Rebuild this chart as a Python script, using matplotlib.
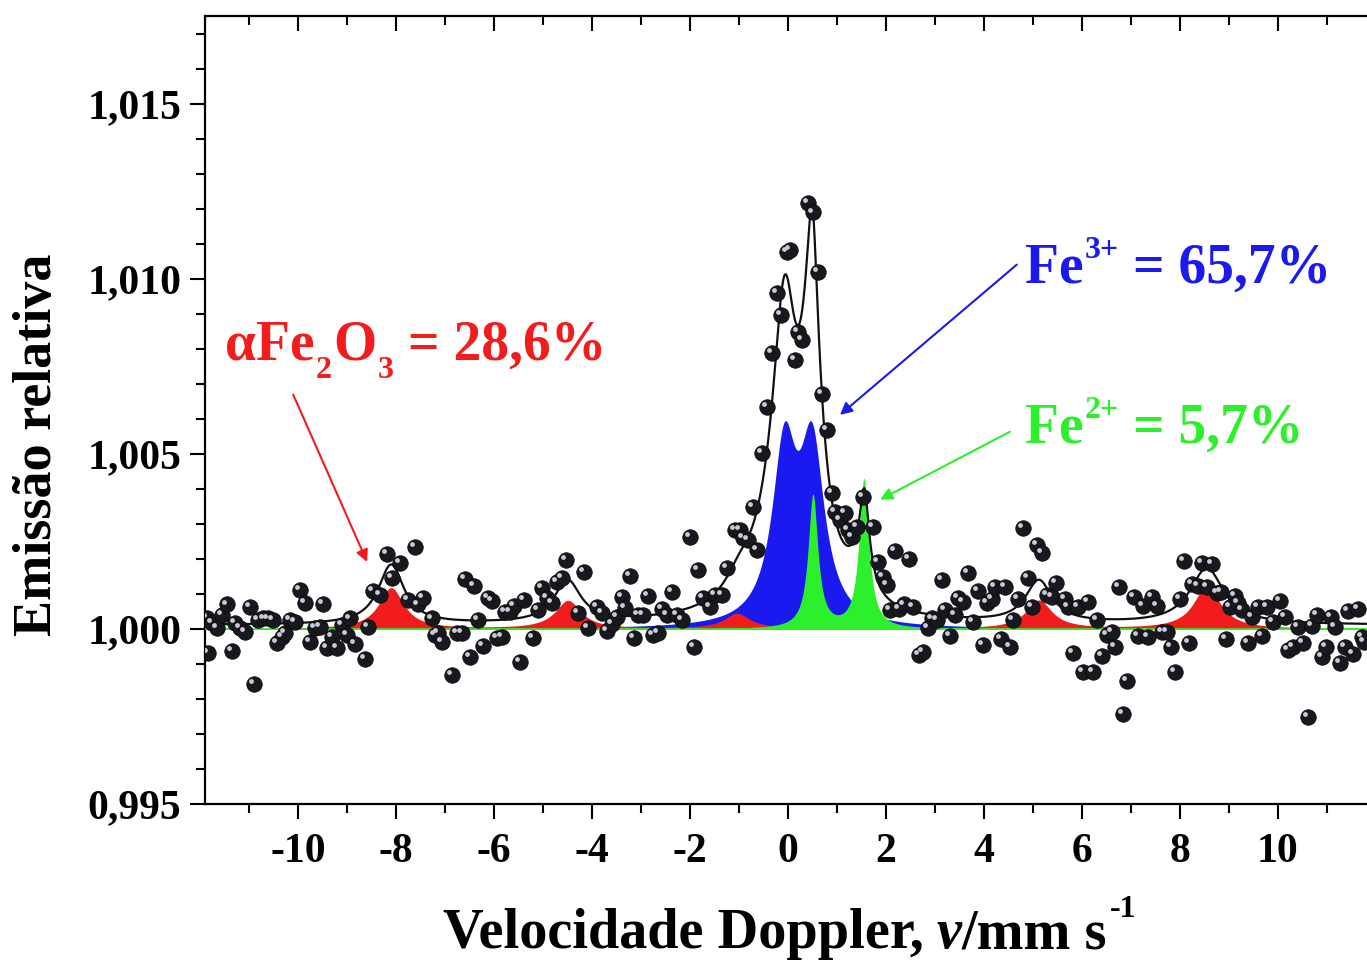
import matplotlib
matplotlib.use('Agg')
import matplotlib.pyplot as plt
import numpy as np
from matplotlib.ticker import MultipleLocator, FuncFormatter
from matplotlib.transforms import offset_copy

plt.rcParams['font.family'] = 'Liberation Serif'
plt.rcParams['font.weight'] = 'bold'
plt.rcParams['axes.labelweight'] = 'bold'
plt.rcParams['axes.unicode_minus'] = False

# measured spectrum (velocity mm/s, relative emission)
vel = [-11.86, -11.84, -11.76, -11.65, -11.55, -11.45, -11.35, -11.29, -11.18, -11.08,
       -10.98, -10.90, -10.82, -10.71, -10.61, -10.51, -10.43, -10.33, -10.27, -10.16,
       -10.06, -9.96, -9.86, -9.76, -9.65, -9.55, -9.49, -9.41, -9.31, -9.20,
       -9.10, -9.00, -8.94, -8.84, -8.63, -8.57, -8.47, -8.33, -8.18, -8.08,
       -7.92, -7.76, -7.61, -7.55, -7.45, -7.27, -7.20, -7.14, -7.06, -6.86,
       -6.76, -6.65, -6.59, -6.49, -6.41, -6.33, -6.22, -6.12, -6.04, -5.94,
       -5.84, -5.78, -5.67, -5.59, -5.47, -5.39, -5.20, -5.10, -5.02, -4.92,
       -4.82, -4.71, -4.61, -4.53, -4.29, -4.16, -4.08, -3.90, -3.80, -3.69,
       -3.59, -3.49, -3.39, -3.33, -3.22, -3.14, -3.06, -2.96, -2.86, -2.76,
       -2.65, -2.58, -2.47, -2.37, -2.27, -2.16, -2.00, -1.92, -1.84, -1.73,
       -1.59, -1.49, -1.35, -1.24, -1.08, -0.98, -0.92, -0.82, -0.71, -0.63,
       -0.53, -0.43, -0.33, -0.22, -0.14, -0.02, 0.04, 0.14, 0.20, 0.29,
       0.41, 0.51, 0.61, 0.69, 0.80, 0.90, 0.96, 1.06, 1.16, 1.22,
       1.31, 1.41, 1.53, 1.73, 1.84, 1.94, 2.02, 2.08, 2.18, 2.27,
       2.37, 2.47, 2.55, 2.67, 2.76, 2.86, 2.94, 3.04, 3.14, 3.20,
       3.31, 3.41, 3.47, 3.57, 3.67, 3.78, 3.88, 3.98, 4.06, 4.16,
       4.22, 4.35, 4.43, 4.53, 4.59, 4.69, 4.80, 4.90, 4.98, 5.08,
       5.18, 5.29, 5.39, 5.47, 5.65, 5.71, 5.82, 5.92, 6.02, 6.12,
       6.22, 6.31, 6.41, 6.51, 6.61, 6.67, 6.76, 6.84, 6.92, 7.06,
       7.14, 7.24, 7.35, 7.43, 7.53, 7.63, 7.73, 7.82, 7.90, 8.00,
       8.08, 8.18, 8.24, 8.37, 8.45, 8.55, 8.65, 8.76, 8.84, 8.94,
       9.02, 9.12, 9.18, 9.27, 9.39, 9.47, 9.59, 9.67, 9.78, 9.90,
       10.04, 10.14, 10.20, 10.31, 10.41, 10.51, 10.61, 10.69, 10.80, 10.90,
       10.98, 11.08, 11.16, 11.27, 11.37, 11.43, 11.53, 11.63, 11.71, 11.76]
emis = [1.00031, 0.99931, 1.00017, 1.00003, 1.00040, 1.00070, 0.99937, 1.00017, 1.00003, 0.99991,
        1.00063, 0.99843, 1.00026, 1.00030, 1.00030, 1.00026, 0.99960, 0.99977, 0.99989, 1.00026,
        1.00020, 1.00111, 1.00074, 0.99963, 1.00003, 1.00006, 1.00071, 0.99946, 0.99977, 0.99946,
        1.00011, 0.99983, 1.00030, 0.99957, 0.99914, 1.00006, 1.00109, 1.00097, 1.00214, 1.00146,
        1.00189, 1.00083, 1.00234, 1.00070, 1.00089, 1.00030, 0.99983, 0.99989, 0.99963, 0.99869,
        0.99989, 0.99989, 1.00143, 0.99920, 1.00123, 1.00026, 0.99951, 1.00089, 1.00080, 0.99974,
        0.99977, 1.00049, 1.00049, 1.00066, 0.99906, 1.00083, 0.99974, 1.00054, 1.00117, 1.00089,
        1.00074, 1.00134, 1.00146, 1.00197, 1.00046, 1.00163, 1.00003, 1.00063, 1.00046, 0.99994,
        1.00014, 1.00034, 1.00091, 1.00060, 1.00151, 0.99974, 1.00040, 1.00040, 1.00094, 0.99983,
        0.99989, 1.00057, 1.00040, 1.00106, 1.00040, 1.00026, 1.00263, 0.99949, 1.00169, 1.00089,
        1.00063, 1.00097, 1.00097, 1.00174, 1.00283, 1.00283, 1.00260, 1.00254, 1.00349, 1.00226,
        1.00503, 1.00634, 1.00789, 1.00960, 1.00897, 1.01077, 1.01083, 1.00769, 1.00849, 1.00826,
        1.01217, 1.01189, 1.01020, 1.00671, 1.00569, 1.00389, 1.00334, 1.00311, 1.00331, 1.00283,
        1.00263, 1.00291, 1.00377, 1.00291, 1.00191, 1.00149, 1.00126, 1.00054, 1.00223, 1.00056,
        1.00070, 1.00200, 1.00063, 0.99926, 0.99934, 1.00003, 1.00030, 1.00026, 1.00140, 1.00054,
        0.99980, 1.00040, 1.00089, 1.00077, 1.00160, 1.00020, 1.00109, 0.99954, 1.00074, 1.00086,
        1.00120, 0.99971, 1.00120, 0.99949, 1.00026, 1.00086, 1.00289, 1.00146, 1.00063, 1.00240,
        1.00217, 1.00097, 1.00091, 1.00131, 1.00086, 1.00063, 0.99931, 1.00063, 0.99877, 1.00077,
        0.99877, 1.00026, 0.99923, 0.99983, 0.99991, 0.99949, 1.00120, 0.99757, 0.99852, 1.00091,
        0.99980, 1.00066, 0.99977, 1.00091, 1.00066, 0.99991, 0.99991, 0.99949, 0.99877, 1.00086,
        1.00194, 0.99960, 1.00129, 1.00123, 1.00189, 1.00120, 1.00186, 1.00103, 1.00106, 0.99971,
        1.00063, 1.00094, 1.00074, 1.00054, 0.99960, 1.00034, 1.00063, 0.99980, 1.00063, 1.00020,
        1.00080, 1.00034, 0.99940, 0.99949, 1.00006, 0.99960, 0.99749, 1.00009, 1.00040, 0.99920,
        0.99949, 1.00034, 1.00006, 0.99903, 0.99949, 1.00051, 0.99929, 1.00057, 0.99977, 0.99963]

# fitted components: line positions, heights, half widths
hem_pos = [-8.10, -4.49, -1.04, 1.60, 5.12, 8.55]
hem_amp = [0.00117, 0.00080, 0.00043, 0.00030, 0.00081, 0.00122]
hem_hw = [0.31, 0.32, 0.32, 0.32, 0.32, 0.33]

fe3_pos = [-0.08, 0.49]
fe3_amp = [0.00485, 0.00485]
fe3_hw = [0.30, 0.30]

fe2_pos = [0.51, 1.55]
fe2_amp = [0.00380, 0.00425]
fe2_hw = [0.12, 0.12]

# envelope of the fit (black line)
fit_base = 0.0001
fit_pos = [-8.10, -4.50, -1.00, -0.20, -0.07, 0.48, 0.50, 1.40, 1.56, 5.12, 8.55]
fit_amp = [0.0017, 0.0012, 0.0005, 0.0020, 0.0065, 0.0065, 0.0032, 0.0006, 0.00255, 0.0012, 0.0016]
fit_hw = [0.32, 0.33, 0.33, 0.60, 0.28, 0.28, 0.12, 0.33, 0.12, 0.33, 0.42]

RED = '#f21c1c'
BLUE = '#1a1af0'
GREEN = '#2cf02c'


def lorentz(x, pos, amp, hw):
    y = np.zeros_like(x)
    for p, a, w in zip(pos, amp, hw):
        y += a / (1 + ((x - p) / w) ** 2)
    return y


def rich_text(ax, x, y, parts, color, transform=None):
    # parts: (text, fontsize, gap before in pt, baseline shift in pt, style)
    prev = None
    for txt, size, gap, dy, style in parts:
        if prev is None:
            t = ax.text(x, y, txt, fontsize=size, color=color, va='baseline',
                        style=style, fontweight='bold', transform=transform or ax.transData)
        else:
            t = ax.annotate(txt, xy=(1, y), xycoords=(prev, transform or ax.transData),
                            xytext=(gap, dy), textcoords='offset points', fontsize=size,
                            color=color, va='baseline', ha='left', style=style,
                            fontweight='bold', annotation_clip=False)
        prev = t
    return prev


xs = np.linspace(-11.9, 11.9, 3000)

fig = plt.figure(figsize=(13.67, 9.63), dpi=100)
ax = fig.add_axes([205 / 1367, 1 - 804 / 963, (1370 - 205) / 1367, (804 - 16) / 963])

ax.fill_between(xs, 1, 1 + lorentz(xs, fe3_pos, fe3_amp, fe3_hw), color=BLUE, lw=0, zorder=2)
ax.fill_between(xs, 1, 1 + lorentz(xs, hem_pos, hem_amp, hem_hw), color=RED, lw=0, zorder=3)
ax.fill_between(xs, 1, 1 + lorentz(xs, fe2_pos, fe2_amp, fe2_hw), color=GREEN, lw=0, zorder=4)
ax.axhline(1.0, color=GREEN, lw=1.2, zorder=4.5)
ax.plot(xs, 1 + fit_base + lorentz(xs, fit_pos, fit_amp, fit_hw), color='#111111', lw=1.6, zorder=5)

ax.scatter(vel, emis, s=125, color='#18181f', edgecolors='#0a0a0a', linewidths=0.5, zorder=6)
hl = offset_copy(ax.transData, fig=fig, x=-2.0, y=2.0, units='points')
ax.scatter(vel, emis, s=12, color='#c9c9d8', lw=0, transform=hl, zorder=7)

ax.set_xlim(-11.9, 11.88)
ax.set_ylim(0.995, 1.0175)

ax.xaxis.set_major_locator(MultipleLocator(2))
ax.xaxis.set_minor_locator(MultipleLocator(1))
ax.yaxis.set_major_locator(MultipleLocator(0.005))
ax.yaxis.set_minor_locator(MultipleLocator(0.001))
ax.yaxis.set_major_formatter(FuncFormatter(lambda v, p: f'{v:.3f}'.replace('.', ',')))
ax.xaxis.set_major_formatter(FuncFormatter(lambda v, p: f'{v:.0f}'))

for s in ax.spines.values():
    s.set_linewidth(1.6)
ax.tick_params(which='both', top=True, right=True, width=1.5, labelsize=30)
ax.tick_params(axis='x', which='major', length=11, pad=10)
ax.tick_params(axis='x', which='minor', length=6.5)
ax.tick_params(axis='y', which='major', length=11, pad=6)
ax.tick_params(axis='y', which='minor', length=6.5)
for t in ax.xaxis.get_major_ticks() + ax.xaxis.get_minor_ticks():
    t.tick2line.set_marker(3)
for t in ax.yaxis.get_major_ticks() + ax.yaxis.get_minor_ticks():
    t.tick2line.set_marker(1)

ax.set_ylabel('Emissão relativa', fontsize=39)
ax.yaxis.set_label_coords(-0.122, 0.456)

# x axis title built from pieces (italic v, superscript -1)
rich_text(ax, 443 / 1367, 1 - 948 / 963,
          [('Velocidade Doppler,', 40.5, 0, 0, 'normal'),
           ('v', 40.5, 9, 0, 'italic'),
           ('/mm s', 40.5, 0, 0, 'normal'),
           ('-1', 23, 2, 22, 'normal')],
          'black', transform=fig.transFigure)

rich_text(ax, -11.49, 1.00769,
          [('αFe', 40, 0, 0, 'normal'),
           ('2', 23, 1, -13, 'normal'),
           ('O', 40, 1, 0, 'normal'),
           ('3', 23, 1, -13, 'normal'),
           ('= 28,6%', 40, 10, 0, 'normal')], RED)
rich_text(ax, 4.84, 1.00989,
          [('Fe', 40, 0, 0, 'normal'),
           ('3+', 23, 1, 18, 'normal'),
           ('= 65,7%', 40, 10, 0, 'normal')], BLUE)
rich_text(ax, 4.84, 1.00531,
          [('Fe', 40, 0, 0, 'normal'),
           ('2+', 23, 1, 18, 'normal'),
           ('= 5,7%', 40, 10, 0, 'normal')], GREEN)

arrow = dict(arrowstyle='-|>', lw=1.5, mutation_scale=18, shrinkA=0, shrinkB=0)
ax.annotate('', xy=(-8.59, 1.00191), xytext=(-10.1, 1.00669), arrowprops=dict(arrow, color=RED), zorder=8)
ax.annotate('', xy=(1.06, 1.00611), xytext=(4.67, 1.0104), arrowprops=dict(arrow, color=BLUE), zorder=8)
ax.annotate('', xy=(1.88, 1.00369), xytext=(4.53, 1.00563), arrowprops=dict(arrow, color=GREEN), zorder=8)

fig.savefig('out.png', dpi=100)
